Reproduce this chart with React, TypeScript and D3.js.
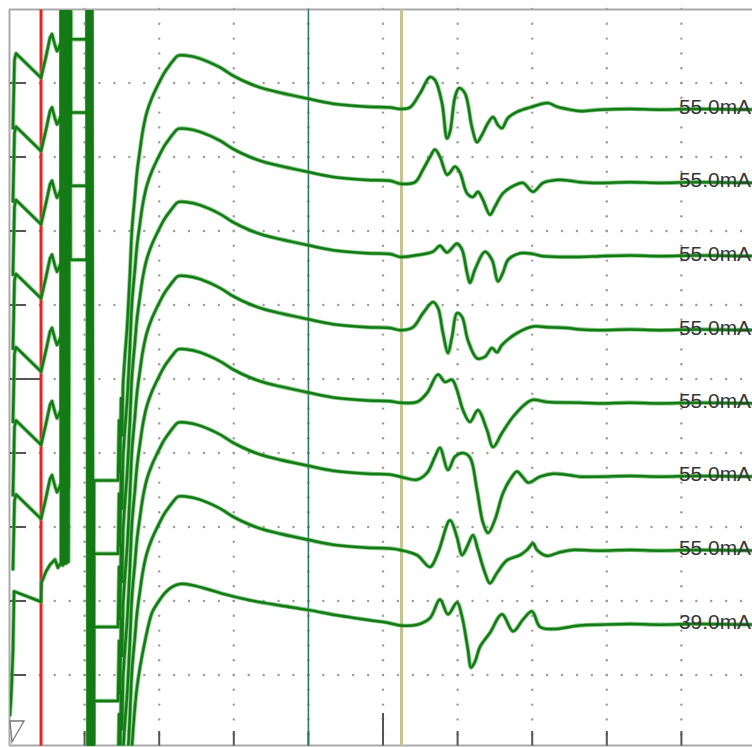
import * as d3 from 'd3';

type Pt = [number, number];

// sweep: 10 ms per division, 8 stacked traces, 1 mV per division
const sweepMs: [number, number] = [0, 100];
const screenDiv: [number, number] = [0, 10];

const stimLabels = ['55.0mA', '55.0mA', '55.0mA', '55.0mA', '55.0mA', '55.0mA', '55.0mA', '39.0mA'];
// vertical position of each trace's resting line (in divisions from the bottom)
const baselines = [8.64, 7.65, 6.66, 5.66, 4.67, 3.68, 2.68, 1.68];

const cursorRed = 4.16;
const cursorTeal = 40;
const cursorOlive = 52.48;

// pre-stimulus part, traces 1-7
const leftStd: Pt[] = [
  [0.4, -0.25], [0.6, 0.67], [0.8, 0.76], [4.16, 0.43], [4.83, 0.72], [5.36, 0.97],
  [5.63, 1.02], [6.03, 0.87], [6.3, 0.79], [6.57, 0.84], [6.84, 0.91],
];
// pre-stimulus part, last trace
const leftLast: Pt[] = [
  [0, -1.22], [0.2, -0.88], [0.4, -0.34], [0.54, 0.45], [4.16, 0.31], [4.22, 0.57],
  [4.83, 0.72], [5.36, 0.81], [6.03, 0.88], [6.43, 0.77], [6.84, 0.84],
];
// stimulus artifact, saturating (upper traces)
const artifactClipped: Pt[] = [
  [6.9, 12], [7.04, 0.86], [7.17, 12], [7.31, 0.88], [7.44, 12], [7.57, 0.88], [7.71, 12],
  [7.84, 0.9], [7.98, 12], [8.11, 0.95], [10.32, 0.95], [10.39, 12], [10.52, -12], [10.66, 12],
  [10.79, -12], [10.92, 12], [11.06, -12], [11.26, -5.01], [14.48, -5.01],
  [14.62, -4.2], [14.75, -4.9], [14.89, -3.9], [15.02, -4.4], [15.15, -3.72],
];
// stimulus artifact (lower traces)
const artifactOff: Pt[] = [
  [6.9, 12], [7.04, 0.8], [7.17, 12], [7.31, 0.82], [7.44, 12], [7.57, 0.83], [7.71, 12],
  [7.84, 0.85], [7.98, 12], [8.11, 12], [10.32, 12], [10.39, 12], [10.52, -12], [10.66, 12],
  [10.79, -12], [10.92, 12], [11.06, -12], [11.26, -5.01], [14.48, -5.01],
  [14.62, -4.2], [14.75, -4.9], [14.89, -3.9], [15.02, -4.4], [15.15, -3.72],
];
const recovery: Pt[] = [
  [15.15, -3.72], [15.42, -3.31], [15.68, -2.97], [16.09, -2.19],
  [16.35, -1.62], [16.76, -1.15], [17.02, -0.85], [17.43, -0.54], [17.83, -0.27],
  [18.36, -0.03], [19.03, 0.16], [19.57, 0.28], [20.11, 0.39], [20.64, 0.49],
  [21.18, 0.57], [21.85, 0.66], [22.52, 0.73], [23.73, 0.73], [25.47, 0.69],
  [28.15, 0.57], [29.89, 0.46], [32.17, 0.35], [34.18, 0.28], [36.19, 0.23],
  [39.81, 0.15], [43.3, 0.08], [47.86, 0.04], [50.94, 0.03],
];
const recoveryLast: Pt[] = [
  [15.15, -3.9], [15.68, -3.0], [16.35, -1.65], [17.02, -0.85], [18.1, -0.22],
  [19.03, 0.16], [19.7, 0.28], [20.78, 0.43], [21.72, 0.51], [22.79, 0.55],
  [24.13, 0.54], [26.14, 0.49], [28.82, 0.41], [32.17, 0.33], [36.19, 0.26],
  [39.95, 0.2], [44.24, 0.12], [48.26, 0.06], [50.94, 0.02],
];
// motor responses after the olive cursor
const response: Pt[][] = [
  [[52.28, 0.01], [53.62, 0.03], [54.96, 0.22], [56.3, 0.44], [56.97, 0.4], [57.91, 0.09],
   [58.58, -0.39], [58.98, -0.3], [59.65, 0.17], [60.19, 0.29], [60.99, 0.22], [61.93, -0.24],
   [62.6, -0.44], [63.27, -0.34], [64.08, -0.18], [64.75, -0.1], [65.42, -0.21], [65.95, -0.25],
   [66.76, -0.11], [67.96, -0.03], [69.71, 0.03], [72.12, 0.09], [73.32, 0.04], [75.07, 0.0],
   [76.41, -0.02]],
  [[52.28, -0.01], [54.29, 0.01], [55.36, 0.18], [56.3, 0.35], [56.97, 0.45], [57.64, 0.35],
   [58.58, 0.11], [58.98, 0.14], [59.65, 0.22], [60.32, 0.14], [61.26, -0.14], [62.06, -0.19],
   [62.73, -0.12], [63.4, -0.23], [64.34, -0.43], [65.01, -0.32], [66.09, -0.14], [67.69, -0.03],
   [68.77, 0.0], [70.11, -0.12], [71.45, 0.0], [73.32, 0.04], [75.07, 0.03], [76.41, 0.01]],
  [[52.28, -0.01], [54.96, 0.02], [56.7, 0.06], [57.64, 0.14], [58.58, 0.05], [59.92, 0.17],
   [60.59, 0.09], [61.26, -0.22], [61.66, -0.36], [62.33, -0.18], [63.67, 0.06], [64.61, -0.05],
   [65.42, -0.34], [66.09, -0.22], [66.76, -0.05], [68.36, 0.04], [70.11, 0.03], [71.45, 0.0],
   [76.41, -0.01]],
  [[52.28, 0], [54.02, 0.04], [55.36, 0.23], [56.7, 0.38], [57.37, 0.3], [58.04, -0.04],
   [58.71, -0.31], [59.25, -0.09], [59.92, 0.23], [60.59, 0.18], [61.39, -0.14], [62.6, -0.38],
   [63.67, -0.36], [64.61, -0.24], [65.28, -0.3], [65.95, -0.2], [67.96, -0.04], [70.11, 0.05],
   [71.98, 0.04], [74.66, 0.03], [76.41, 0.01]],
  [[52.28, 0.01], [54.56, 0.02], [55.9, 0.14], [57.37, 0.39], [58.31, 0.29], [59.25, 0.32],
   [59.92, 0.18], [60.72, -0.09], [61.66, -0.25], [62.73, -0.09], [63.94, -0.36], [64.75, -0.59],
   [65.95, -0.4], [67.43, -0.18], [69.3, 0.01], [70.11, 0.05], [71.98, 0.02], [76.41, 0.01]],
  [[52.28, 0], [54.56, -0.04], [55.9, 0.05], [56.97, 0.27], [57.64, 0.39], [58.71, 0.09],
   [59.65, 0.27], [60.72, 0.32], [61.66, 0.26], [62.6, -0.18], [63.4, -0.62], [64.08, -0.76],
   [65.01, -0.58], [66.09, -0.22], [67.29, 0], [67.96, 0.07], [68.77, -0.01], [69.44, -0.08],
   [71.05, 0], [72.79, 0.04], [75.07, 0.02], [76.41, 0]],
  [[52.28, 0.01], [54.56, -0.06], [56.3, -0.22], [57.37, -0.03], [58.98, 0.41], [59.92, 0.18],
   [60.59, -0.06], [61.26, 0.05], [62.06, 0.21], [62.73, 0.01], [63.67, -0.3], [64.34, -0.44],
   [65.28, -0.3], [66.62, -0.13], [68.36, -0.06], [69.3, 0.01], [70.11, 0.1], [70.64, 0.01],
   [71.98, -0.07], [73.73, -0.02], [75.47, 0.01], [76.41, 0.01]],
  [[52.28, -0.01], [54.56, 0], [56.3, 0.09], [57.64, 0.34], [58.71, 0.14], [59.92, 0.3],
   [60.59, 0.11], [61.39, -0.34], [61.8, -0.58], [62.33, -0.5], [63.0, -0.3], [64.34, -0.11],
   [65.95, 0.14], [67.43, -0.09], [68.77, 0.07], [69.97, 0.18], [71.05, -0.03], [72.79, -0.06],
   [76.41, -0.01]],
];
const tail: Pt[] = [[79.09, 0], [83.11, 0.01], [87.13, 0], [92, 0.01], [100, 0]];

const W = 752;
const H = 747;

const App = () => {
  const x = d3.scaleLinear().domain(sweepMs).range([10, 756]);
  const y = d3.scaleLinear().domain(screenDiv).range([749, 9]);
  const top = 9.5;
  const bottom = 745.5;

  const traces = baselines.map((base, i) => {
    const last = i === baselines.length - 1;
    // the saturated stimulus part is drawn as straight segments, the rest smooth
    const sharp: Pt[] = [...(last ? leftLast : leftStd), ...(i < 4 ? artifactClipped : artifactOff)];
    const smooth: Pt[] = [...(last ? recoveryLast : recovery), ...response[i], ...tail];
    const straight = d3.line<Pt>().x(d => x(d[0])).y(d => y(base + d[1]));
    const curved = d3.line<Pt>()
      .x(d => x(d[0]))
      .y(d => y(base + d[1]))
      .curve(d3.curveCatmullRom.alpha(0.5));
    return (straight(sharp) || '') + (curved([sharp[sharp.length - 1], ...smooth]) || '').replace(/^M/, 'L');
  });

  const majorX = d3.range(10, 100, 10);
  const majorY = d3.range(1, 10, 1);
  const minorX = d3.range(0, 100.01, 2);
  const minorY = d3.range(0, 10.01, 0.2);

  return (
    <svg width={W} height={H} style={{ position: 'absolute', left: 0, top: 0, background: '#fff' }}>
      <defs>
        <clipPath id="plotClip">
          <rect x={10} y={top + 1} width={W - 10} height={bottom - top - 1} />
        </clipPath>
      </defs>
      <rect x={0} y={0} width={W} height={H} fill="#fff" />

      {/* dotted grid */}
      <g fill="#9a9a9a">
        {majorY.map(v => minorX.map(t => (
          <circle key={`h${v}-${t}`} cx={x(t)} cy={y(v)} r={1.2} />
        )))}
        {majorX.map(t => minorY.map(v => (
          <circle key={`v${t}-${v}`} cx={x(t)} cy={y(v)} r={1.2} />
        )))}
      </g>

      {/* frame */}
      <g stroke="#a9a9a9" strokeWidth={2} fill="none">
        <line x1={9} x2={W} y1={top} y2={top} />
        <line x1={9.5} x2={9.5} y1={top} y2={bottom} />
        <line x1={9} x2={W} y1={bottom} y2={bottom} />
      </g>

      {/* ticks */}
      <g stroke="#555" strokeWidth={2}>
        {majorY.map(v => (
          <line key={`ly${v}`} x1={10} x2={v === 5 ? 41 : 26} y1={y(v)} y2={y(v)} />
        ))}
        {majorX.map(t => (
          <line key={`bx${t}`} x1={x(t)} x2={x(t)} y1={t === 50 ? 713 : 731} y2={bottom} />
        ))}
      </g>

      {/* cursors */}
      <line x1={x(cursorRed)} x2={x(cursorRed)} y1={top} y2={bottom} stroke="#e8231f" strokeWidth={3} />
      <line x1={x(cursorTeal)} x2={x(cursorTeal)} y1={top} y2={bottom} stroke="#2f7a6c" strokeWidth={1.6} />
      <line x1={x(cursorOlive)} x2={x(cursorOlive)} y1={top} y2={bottom} stroke="#c6c48e" strokeWidth={3} />

      {/* traces */}
      <g clipPath="url(#plotClip)" fill="none" strokeLinejoin="round" strokeLinecap="round">
        {traces.map((d, i) => (
          <path key={`halo${i}`} d={d} stroke="#55b355" strokeWidth={4.2} strokeOpacity={0.7} />
        ))}
        {traces.map((d, i) => (
          <path key={`core${i}`} d={d} stroke="#137a15" strokeWidth={2.5} />
        ))}
      </g>

      {/* stimulus intensity labels */}
      <g fontFamily="'Liberation Sans', Arial, sans-serif" fontSize={19.5} fill="#363636">
        {stimLabels.map((s, i) => (
          <text key={`lab${i}`} x={679} y={y(baselines[i]) + 4.5} textLength={72} lengthAdjust="spacingAndGlyphs">{s}</text>
        ))}
      </g>

      <polygon points={`10,721 24,721 12,742`} fill="none" stroke="#777" strokeWidth={1.3} />
    </svg>
  );
};

export default App;
